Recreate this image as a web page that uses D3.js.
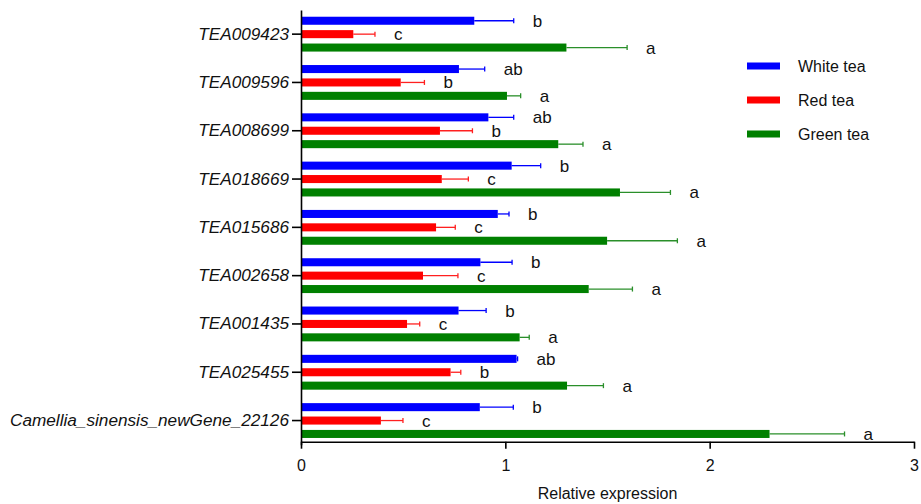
<!DOCTYPE html>
<html>
<head>
<meta charset="utf-8">
<script src="https://cdn.jsdelivr.net/npm/d3@7"></script>
<style>
  body { margin: 0; background: #fff; }
  svg { display: block; font-family: "Liberation Sans", Arial, sans-serif; }
  .axis path, .axis line { stroke: #000; stroke-width: 1.6px; }
  .axis text { fill: #111; }
</style>
</head>
<body>
<svg id="graph" width="921" height="504"></svg>
<script>
// Data
var genes = ["TEA009423", "TEA009596", "TEA008699", "TEA018669", "TEA015686",
             "TEA002658", "TEA001435", "TEA025455", "Camellia_sinensis_newGene_22126"];
var series = ["White tea", "Red tea", "Green tea"];
var colors = ["#0000ff", "#ff0000", "#008000"];
var errColors = ["#0000ff", "#ff2020", "#2a8f2a"];

var whiteTea = [0.848, 0.773, 0.917, 1.031, 0.963, 0.878, 0.771, 1.055, 0.875];
var whiteErr = [0.193, 0.126, 0.124, 0.142, 0.055, 0.155, 0.135, 0.005, 0.164];
var redTea   = [0.256, 0.488, 0.680, 0.689, 0.661, 0.597, 0.519, 0.732, 0.391];
var redErr   = [0.106, 0.116, 0.159, 0.130, 0.094, 0.171, 0.062, 0.050, 0.108];
var greenTea = [1.299, 1.008, 1.259, 1.561, 1.498, 1.408, 1.070, 1.302, 2.293];
var greenErr = [0.297, 0.067, 0.121, 0.247, 0.344, 0.214, 0.047, 0.178, 0.367];

var whiteSig = ["b", "ab", "ab", "b", "b", "b", "b", "ab", "b"];
var redSig   = ["c", "b", "b", "c", "c", "c", "c", "b", "c"];
var greenSig = ["a", "a", "a", "a", "a", "a", "a", "a", "a"];

var xTicks = [0, 1, 2, 3];

var svg = d3.select("svg#graph"),
    margin = {top: 10, left: 301, bottom: 62, right: 7},
    width = 921 - margin.left - margin.right,
    height = 504 - margin.top - margin.bottom;

var g = svg.append("g").attr("transform", "translate(" + margin.left + "," + margin.top + ")");

var values = [whiteTea, redTea, greenTea],
    errs = [whiteErr, redErr, greenErr],
    sigs = [whiteSig, redSig, greenSig];

var rows = [];
genes.forEach(function (gene, i) {
    series.forEach(function (s, j) {
        rows.push({gene: gene, s: j, value: values[j][i], err: errs[j][i], sig: sigs[j][i]});
    });
});

var x = d3.scaleLinear().domain([0, 3]).range([0, width]);
var y = d3.scaleBand().domain(genes).range([0, 434.7]);
var yInner = d3.scaleBand().domain(d3.range(3))
    .range([y.bandwidth() / 2 - 20.1, y.bandwidth() / 2 + 20.1])
    .paddingInner(0.4).paddingOuter(0.2);

function barY(d) { return y(d.gene) + yInner(d.s); }

// bars
g.selectAll("rect.bar").data(rows).enter().append("rect")
    .attr("class", "bar")
    .attr("x", x(0))
    .attr("y", barY)
    .attr("width", function (d) { return x(d.value) - x(0); })
    .attr("height", yInner.bandwidth())
    .attr("fill", function (d) { return colors[d.s]; });

// error bars
var eb = g.selectAll("g.err").data(rows).enter().append("g").attr("class", "err")
    .attr("stroke", function (d) { return errColors[d.s]; })
    .attr("stroke-width", 1.3);
eb.append("line")
    .attr("x1", function (d) { return x(d.value); })
    .attr("x2", function (d) { return x(d.value + d.err); })
    .attr("y1", function (d) { return barY(d) + yInner.bandwidth() / 2; })
    .attr("y2", function (d) { return barY(d) + yInner.bandwidth() / 2; });
eb.append("line")
    .attr("x1", function (d) { return x(d.value + d.err); })
    .attr("x2", function (d) { return x(d.value + d.err); })
    .attr("y1", function (d) { return barY(d) + yInner.bandwidth() / 2 - 2.5; })
    .attr("y2", function (d) { return barY(d) + yInner.bandwidth() / 2 + 2.5; });

// significance letters
g.selectAll("text.sig").data(rows).enter().append("text")
    .attr("class", "sig")
    .attr("x", function (d) { return x(d.value + d.err) + 19; })
    .attr("y", function (d) { return barY(d) + yInner.bandwidth() / 2; })
    .attr("dy", "0.35em")
    .style("font-size", "17px")
    .attr("fill", "#111")
    .text(function (d) { return d.sig; });

// axes
var xAxis = d3.axisBottom(x).tickValues(xTicks).tickFormat(d3.format("d")).tickSize(7).tickSizeOuter(0),
    yAxis = d3.axisLeft(y).tickSize(9).tickPadding(3).tickSizeOuter(0);

var gx = g.append("g").attr("class", "x axis")
    .attr("transform", "translate(0," + (height - 0.3) + ")")
    .call(xAxis);
gx.selectAll("text").style("font-size", "16px").attr("dy", "1.2em");

var gy = g.append("g").attr("class", "y axis").call(yAxis);
gy.selectAll("text").style("font-size", "17.2px").style("font-style", "italic");

g.append("text")
    .attr("x", width / 2)
    .attr("y", height + 57)
    .attr("text-anchor", "middle")
    .style("font-size", "16px")
    .attr("fill", "#111")
    .text("Relative expression");

// legend
var legend = svg.append("g").attr("transform", "translate(747,66)");
var li = legend.selectAll("g").data(series).enter().append("g")
    .attr("transform", function (d, i) { return "translate(0," + i * 34 + ")"; });
li.append("rect").attr("x", 0).attr("y", -3.5).attr("width", 33).attr("height", 7)
    .attr("fill", function (d, i) { return colors[i]; });
li.append("text").attr("x", 51).attr("dy", "0.35em")
    .style("font-size", "16px").attr("fill", "#111")
    .text(function (d) { return d; });
</script>
</body>
</html>
